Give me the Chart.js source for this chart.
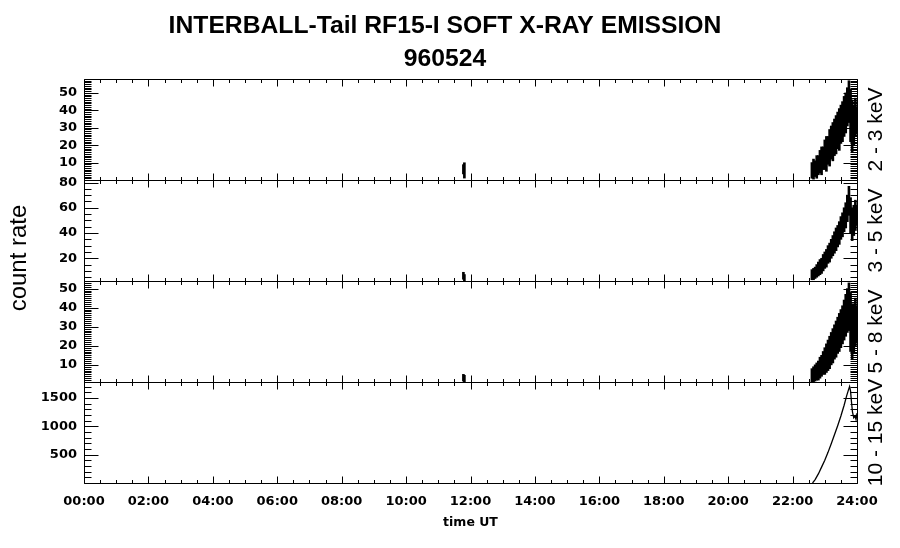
<!DOCTYPE html>
<html>
<head>
<meta charset="utf-8">
<title>INTERBALL-Tail RF15-I SOFT X-RAY EMISSION 960524</title>
<script src="https://cdn.jsdelivr.net/npm/chart.js@4.4.1/dist/chart.umd.min.js"></script>
<style>
    html, body { margin: 0; padding: 0; background: #fff; }
    #wrap { position: relative; width: 900px; height: 548px; }
</style>
</head>
<body>
<div id="wrap"><canvas id="rf15Chart" width="900" height="548"></canvas></div>
<script>
// Time bins (hours UT). First two: short burst near 11:48, rest: evening rise
const binTimes = [11.78, 11.81,
    22.60, 22.65, 22.70, 22.75, 22.80, 22.85, 22.90, 22.95, 23.00, 23.05,
    23.10, 23.15, 23.20, 23.25, 23.30, 23.35, 23.40, 23.45, 23.50, 23.55,
    23.60, 23.65, 23.70, 23.75, 23.80, 23.85, 23.90, 23.95, 24.00];

// 2 - 3 keV: min / max count rate per bin
const lo23 = [3.5, 1.1, 1, 0.5, 2, 1, 3, 4, 3, 6, 6, 5, 9, 8, 12, 11, 14, 15, 18, 17, 21, 22, 25, 27, 31, 33, 22, 16, 20, 25, 27];
const hi23 = [8.8, 9.9, 10, 12, 11, 14, 14, 17, 19, 19, 23, 25, 25, 29, 31, 33, 35, 37, 39, 41, 43, 45, 48, 50, 53, 57, 52, 46, 43, 47, 42];

// 3 - 5 keV
const lo35 = [3.4, 2, 3, 3, 4, 5, 6, 7, 8, 10, 12, 13, 16, 17, 20, 22, 24, 26, 29, 31, 35, 37, 41, 44, 49, 54, 40, 34, 38, 42, 46];
const hi35 = [8.9, 7.1, 11, 12, 13, 15, 17, 19, 20, 23, 25, 27, 30, 32, 35, 38, 41, 44, 46, 49, 53, 56, 60, 64, 70, 77, 68, 60, 62, 66, 62];

// 5 - 8 keV
const lo58 = [1.5, 1, 1, 1, 1.5, 2, 2, 3, 4, 5, 5, 6, 7, 8, 10, 11, 13, 14, 16, 17, 19, 21, 23, 25, 27, 28, 17, 13, 16, 20, 22];
const hi58 = [5, 4.5, 8, 9, 10, 11, 12, 14, 15, 17, 19, 21, 23, 25, 27, 29, 31, 33, 35, 37, 39, 41, 44, 47, 50, 53, 48, 42, 42, 45, 41];

// 10 - 15 keV (thin trace)
const hardTimes = [22.62, 22.70, 22.80, 22.90, 23.00, 23.10, 23.20, 23.30, 23.40, 23.50, 23.60,
    23.68, 23.74, 23.77, 23.80, 23.83, 23.86, 23.90, 23.94, 23.97, 24.00];
const hardRate = [0, 60, 160, 280, 400, 540, 690, 850, 1010, 1180, 1370,
    1540, 1650, 1700, 1620, 1420, 1250, 1150, 1180, 1120, 1230];

// Axis ticks and labels
const hourTicks = [0, 2, 4, 6, 8, 10, 12, 14, 16, 18, 20, 22, 24];
const hourLabels = ['00:00', '02:00', '04:00', '06:00', '08:00', '10:00', '12:00',
    '14:00', '16:00', '18:00', '20:00', '22:00', '24:00'];
const ticks23 = [10, 20, 30, 40, 50];
const ticks35 = [20, 40, 60, 80];
const ticks58 = [10, 20, 30, 40, 50];
const ticksHard = [500, 1000, 1500];
const bandLabels = ['2 - 3 keV', '3 - 5 keV', '5 - 8 keV', '10 - 15 keV'];

const panelIds = ['y1', 'y2', 'y3', 'y4'];
const minorSteps = { y1: 1, y2: 5, y3: 1, y4: 100 };

const tickFont = { family: 'DejaVu Sans', weight: 'bold', size: 13 };

// Min/max bins as floating bars
const rangeData = (lo, hi) => binTimes.map((t, i) => ({ x: t, y: [lo[i], hi[i]] }));

const bandDataset = (lo, hi, axis) => ({
    type: 'bar',
    data: rangeData(lo, hi),
    yAxisID: axis,
    backgroundColor: '#000',
    borderWidth: 0,
    barThickness: 2,
    grouped: false
});

// One stacked y axis per energy band
const panelScale = (min, max, tickValues) => ({
    type: 'linear',
    position: 'left',
    stack: 'bands',
    stackWeight: 1,
    min: min,
    max: max,
    grid: { display: false, drawTicks: false },
    border: { display: false },
    afterBuildTicks: (s) => { s.ticks = tickValues.map(v => ({ value: v })); },
    afterFit: (s) => { s.width = 84; },
    ticks: { color: '#000', font: tickFont, padding: 7, autoSkip: false, callback: (v) => String(v) }
});

// Frames, inward ticks and side labels (IDL style)
const panelAxes = {
    id: 'panelAxes',
    afterDatasetsDraw: (chart) => {
        const { ctx, chartArea, scales } = chart;
        const xs = scales.x;
        const left = Math.round(chartArea.left);
        const right = Math.round(chartArea.right);

        ctx.save();
        ctx.strokeStyle = '#000';
        ctx.lineWidth = 1;
        ctx.beginPath();

        panelIds.forEach((id) => {
            const ys = scales[id];
            const top = Math.round(ys.top);
            const bottom = Math.round(ys.bottom);

            ctx.rect(left + 0.5, top + 0.5, right - left, bottom - top);

            // time ticks on top and bottom edge
            for (let h = 0; h <= 24; h += 0.5) {
                const px = Math.round(xs.getPixelForValue(h)) + 0.5;
                const len = h % 2 === 0 ? 7 : 3.5;
                ctx.moveTo(px, top + 0.5);
                ctx.lineTo(px, top + 0.5 + len);
                ctx.moveTo(px, bottom + 0.5);
                ctx.lineTo(px, bottom + 0.5 - len);
            }

            // count rate ticks on left and right edge
            const majors = ys.ticks.map(t => t.value);
            const step = minorSteps[id];
            for (let v = Math.ceil(ys.min / step) * step; v <= ys.max; v += step) {
                const py = Math.round(ys.getPixelForValue(v)) + 0.5;
                const len = majors.includes(v) ? 14 : 7;
                ctx.moveTo(left + 0.5, py);
                ctx.lineTo(left + 0.5 + len, py);
                ctx.moveTo(right + 0.5, py);
                ctx.lineTo(right + 0.5 - len, py);
            }
        });
        ctx.stroke();

        // rotated labels
        ctx.fillStyle = '#000';
        ctx.textAlign = 'center';
        ctx.textBaseline = 'alphabetic';

        ctx.font = '24px "Liberation Sans"';
        ctx.save();
        ctx.translate(26, 258);
        ctx.rotate(-Math.PI / 2);
        ctx.fillText('count rate', 0, 0);
        ctx.restore();

        ctx.font = '21px "Liberation Sans"';
        panelIds.forEach((id, i) => {
            const ys = scales[id];
            ctx.save();
            ctx.translate(right + 25, (ys.top + ys.bottom) / 2);
            ctx.rotate(-Math.PI / 2);
            ctx.fillText(bandLabels[i], 0, 0);
            ctx.restore();
        });
        ctx.restore();
    }
};

const ctx = document.getElementById('rf15Chart');
new Chart(ctx, {
    type: 'bar',
    data: {
        datasets: [
            bandDataset(lo23, hi23, 'y1'),
            bandDataset(lo35, hi35, 'y2'),
            bandDataset(lo58, hi58, 'y3'),
            {
                type: 'line',
                data: hardTimes.map((t, i) => ({ x: t, y: hardRate[i] })),
                yAxisID: 'y4',
                borderColor: '#000',
                borderWidth: 1.3,
                pointRadius: 0,
                tension: 0
            }
        ]
    },
    options: {
        responsive: false,
        animation: false,
        layout: { padding: { left: 0, right: 10, top: 0, bottom: 0 } },
        plugins: {
            legend: { display: false },
            tooltip: { enabled: false },
            title: {
                display: true,
                text: ['INTERBALL-Tail RF15-I SOFT X-RAY EMISSION', '960524'],
                color: '#000',
                font: { family: 'Liberation Sans', weight: 'bold', size: 24.7, lineHeight: 1.336 },
                padding: { top: 10, bottom: 3 }
            }
        },
        scales: {
            x: {
                type: 'linear',
                position: 'bottom',
                min: 0,
                max: 24,
                offset: false,
                grid: { display: false, drawTicks: false, offset: false },
                border: { display: false },
                afterBuildTicks: (s) => { s.ticks = hourTicks.map(v => ({ value: v })); },
                afterFit: (s) => { s.height = 65; },
                ticks: {
                    color: '#000',
                    font: { family: 'DejaVu Sans', weight: 'bold', size: 13 },
                    padding: 10.5,
                    maxRotation: 0,
                    autoSkip: false,
                    callback: (v, i) => hourLabels[i]
                },
                title: {
                    display: true,
                    text: 'time UT',
                    color: '#000',
                    font: { family: 'DejaVu Sans', weight: 'bold', size: 12.5 },
                    padding: { top: 0, bottom: 18 }
                }
            },
            // stacked axes are placed bottom-up, so the lowest panel comes first
            y4: panelScale(0, 1780, ticksHard),
            y3: panelScale(1, 54, ticks58),
            y2: panelScale(2, 82, ticks35),
            y1: panelScale(0, 58, ticks23),
            yr: {
                type: 'linear',
                position: 'right',
                grid: { display: false, drawTicks: false },
                border: { display: false },
                ticks: { display: false },
                afterFit: (s) => { s.width = 33; }
            }
        }
    },
    plugins: [panelAxes]
});
</script>
</body>
</html>
